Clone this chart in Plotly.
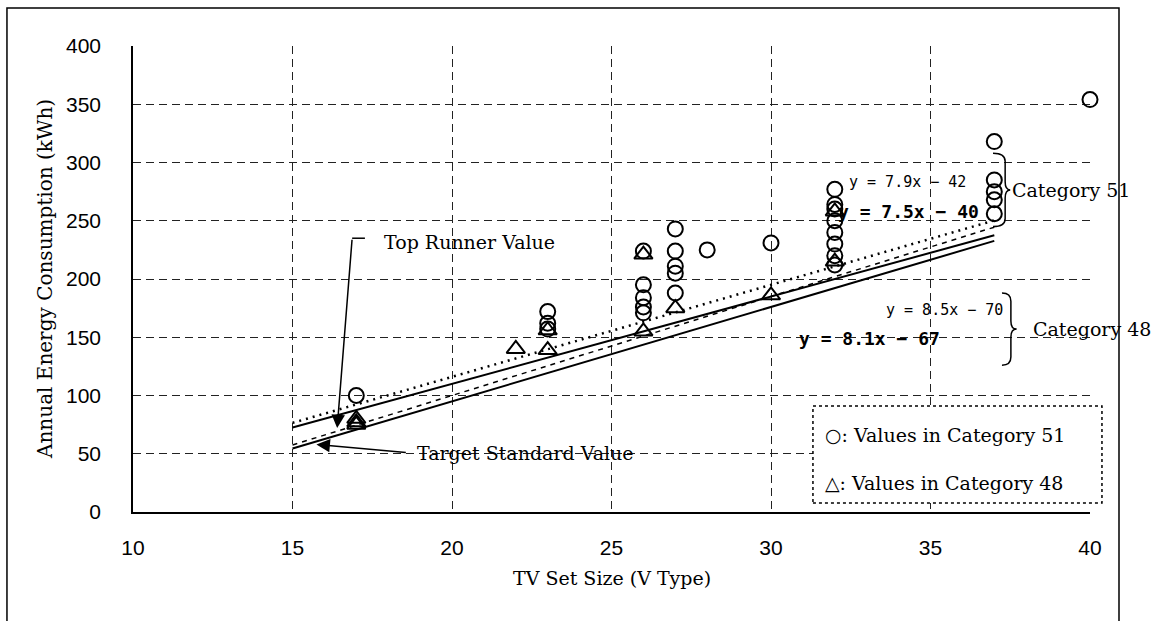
import plotly.graph_objects as go

# ---- data ----
cat51_x = [17, 23, 23, 23, 26, 26, 26, 26, 26, 27, 27, 27, 27, 27, 28, 30,
           32, 32, 32, 32, 32, 32, 32, 32, 37, 37, 37, 37, 37, 40]
cat51_y = [100, 172, 162, 157, 224, 195, 184, 176, 171, 243, 224, 211, 205, 188, 225, 231,
           277, 264, 260, 250, 240, 230, 220, 212, 318, 285, 275, 268, 256, 354]

cat48_x = [17, 17, 17, 22, 23, 23, 26, 26, 27, 30, 32, 32]
cat48_y = [80, 77, 75, 140, 156, 139, 221, 155, 175, 186, 258, 215]

# regression lines (slope, intercept) as printed on the chart
line_names = ["y = 7.9x - 42", "y = 7.5x - 40", "y = 8.5x - 70", "y = 8.1x - 67"]
line_slope = [7.9, 7.5, 8.5, 8.1]
line_icpt = [-42, -40, -70, -67]
line_x = [15, 37]

x_ticks = [10, 15, 20, 25, 30, 35, 40]
y_ticks = [0, 50, 100, 150, 200, 250, 300, 350, 400]

SERIF = "DejaVu Serif"
SANS = "Liberation Sans"
MONO = "DejaVu Sans Mono"
SERIF_SIZE = 19

fig = go.Figure()

line_styles = [
    dict(color="black", width=2.5, dash="2px,5px"),
    dict(color="black", width=2),
    dict(color="black", width=1.5, dash="5px,5px"),
    dict(color="black", width=2),
]
for name, m, b, st in zip(line_names, line_slope, line_icpt, line_styles):
    fig.add_trace(go.Scatter(
        x=line_x, y=[m * v + b for v in line_x], mode="lines",
        line=st, name=name, showlegend=False, hoverinfo="skip"))

fig.add_trace(go.Scatter(
    x=cat51_x, y=cat51_y, mode="markers", name="Category 51", cliponaxis=False,
    marker=dict(symbol="circle-open", size=15, color="black", line=dict(width=2)),
    showlegend=False))
fig.add_trace(go.Scatter(
    x=cat48_x, y=cat48_y, mode="markers", name="Category 48", cliponaxis=False,
    marker=dict(symbol="triangle-up-open", size=16, color="black", line=dict(width=2)),
    showlegend=False))

grid = dict(showgrid=True, gridcolor="#222222", gridwidth=1, griddash="8px,5px")

fig.update_xaxes(range=[10, 40], tickvals=x_ticks, ticks="", showline=True,
                 linecolor="black", linewidth=1.5, zeroline=False,
                 tickfont=dict(family=SANS, size=21, color="black"),
                 ticklabelstandoff=16, **grid)
fig.update_yaxes(range=[0, 400], tickvals=y_ticks, ticks="", showline=True,
                 linecolor="black", linewidth=1.5, zeroline=False,
                 tickfont=dict(family=SANS, size=21, color="black"),
                 ticklabelstandoff=26, **grid)


def brace(xl, xr, xt, ytop, ybot, d):
    ym = (ytop + ybot) / 2
    return (f"M {xl},{ytop} Q {xr},{ytop} {xr},{ytop - d} "
            f"L {xr},{ym + d} Q {xr},{ym} {xt},{ym} "
            f"Q {xr},{ym} {xr},{ym - d} L {xr},{ybot + d} "
            f"Q {xr},{ybot} {xl},{ybot}")


shapes = [
    dict(type="path", xref="x", yref="y",
         path=brace(36.96, 37.34, 37.5, 308, 245, 7), line=dict(color="black", width=1.5)),
    dict(type="path", xref="x", yref="y",
         path=brace(37.24, 37.52, 37.7, 188, 126, 7), line=dict(color="black", width=1.5)),
    dict(type="line", xref="x", yref="y", x0=16.87, y0=235, x1=17.27, y1=235,
         line=dict(color="black", width=1.5)),
    dict(type="rect", xref="paper", yref="paper", x0=0.7105, x1=1.0125, y0=0.0193, y1=0.2275,
         fillcolor="white", line=dict(color="black", width=1.5, dash="dot")),
    dict(type="rect", xref="paper", yref="paper", x0=-0.1317, x1=1.0303, y0=-0.30, y1=1.0815,
         line=dict(color="black", width=1.5), layer="below"),
]

def serif(size=SERIF_SIZE):
    return dict(family=SERIF, size=size, color="black")

annotations = [
    dict(x=16.4, y=72, xref="x", yref="y", ax=16.87, ay=235, axref="x", ayref="y",
         text="", showarrow=True, arrowhead=2, arrowsize=1.8, arrowwidth=1.5, arrowcolor="black"),
    dict(x=17.8, y=232, xref="x", yref="y", text="Top Runner Value", showarrow=False,
         xanchor="left", yanchor="middle", font=serif()),
    dict(x=15.75, y=58, xref="x", yref="y", ax=18.6, ay=51, axref="x", ayref="y",
         text="", showarrow=True, arrowhead=2, arrowsize=1.8, arrowwidth=1.5, arrowcolor="black"),
    dict(x=18.84, y=51, xref="x", yref="y", text="Target Standard Value", showarrow=False,
         xanchor="left", yanchor="middle", font=serif()),
    dict(x=34.27, y=283, xref="x", yref="y", text="y = 7.9x − 42", showarrow=False,
         yanchor="middle", font=dict(family=MONO, size=15, color="black")),
    dict(x=34.3, y=258, xref="x", yref="y", text="<b>y = 7.5x − 40</b>", showarrow=False,
         yanchor="middle", font=dict(family=MONO, size=18, color="black")),
    dict(x=35.45, y=173, xref="x", yref="y", text="y = 8.5x − 70", showarrow=False,
         yanchor="middle", font=dict(family=MONO, size=15, color="black")),
    dict(x=33.1, y=149, xref="x", yref="y", text="<b>y = 8.1x − 67</b>", showarrow=False,
         yanchor="middle", font=dict(family=MONO, size=18, color="black")),
    dict(x=37.5, y=276, xref="x", yref="y", text="Category 51", showarrow=False,
         xanchor="left", yanchor="middle", font=serif()),
    dict(x=38.15, y=157, xref="x", yref="y", text="Category 48", showarrow=False,
         xanchor="left", yanchor="middle", font=serif()),
    dict(x=0.721, y=0.165, xref="paper", yref="paper", text="○: Values in Category 51",
         showarrow=False, xanchor="left", yanchor="middle", font=serif()),
    dict(x=0.721, y=0.062, xref="paper", yref="paper", text="△: Values in Category 48",
         showarrow=False, xanchor="left", yanchor="middle", font=serif()),
    dict(x=0.5, y=-0.1416, xref="paper", yref="paper", text="TV Set Size (V Type)",
         showarrow=False, xanchor="center", yanchor="middle", font=serif()),
    dict(x=-0.092, y=0.5, xref="paper", yref="paper", text="Annual Energy Consumption (kWh)",
         showarrow=False, textangle=-90, xanchor="center", yanchor="middle", font=serif(20)),
]

fig.update_layout(
    width=1159, height=621,
    margin=dict(l=133, r=69, t=46, b=109),
    paper_bgcolor="white", plot_bgcolor="white",
    showlegend=False, shapes=shapes, annotations=annotations,
)

fig.write_html("out.html")
